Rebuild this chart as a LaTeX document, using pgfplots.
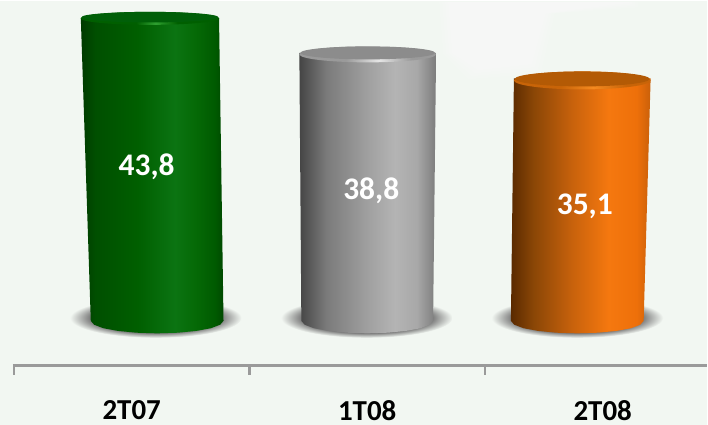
\documentclass[border=0pt]{standalone}
\usepackage{fontspec}
\setmainfont{Carlito}
\usepackage{pgfplots}
\pgfplotsset{compat=1.18}
\definecolor{bg}{HTML}{F2F7F2}
\definecolor{axisgray}{HTML}{9A9A9A}
\definecolor{sh}{HTML}{7A7A7A}
% green
\definecolor{ga}{HTML}{003A00}\definecolor{gb}{HTML}{004F00}\definecolor{gc}{HTML}{005F00}
\definecolor{gd}{HTML}{0B7412}\definecolor{ge}{HTML}{056A06}\definecolor{gf}{HTML}{005A00}\definecolor{gg}{HTML}{004800}
\definecolor{gtop}{HTML}{005F08}\definecolor{gbri}{HTML}{2EA030}
% gray
\definecolor{ka}{HTML}{454545}\definecolor{kb}{HTML}{7B7B7B}\definecolor{kc}{HTML}{A0A0A0}
\definecolor{kd}{HTML}{B4B4B4}\definecolor{ke}{HTML}{A8A8A8}\definecolor{kf}{HTML}{7C7C7C}
\definecolor{ktop}{HTML}{8C8C8C}\definecolor{kbri}{HTML}{E6E6E6}\definecolor{kedge}{HTML}{9A9A9A}
% orange
\definecolor{oa}{HTML}{5A2A00}\definecolor{ob}{HTML}{8A4606}\definecolor{oc}{HTML}{C8620C}
\definecolor{od}{HTML}{F5780F}\definecolor{oe}{HTML}{EE700A}\definecolor{of}{HTML}{C9600A}
\definecolor{otop}{HTML}{B35A05}\definecolor{obri}{HTML}{F58A20}\definecolor{oedge}{HTML}{C86408}
\pgfdeclarehorizontalshading{bodyg}{100bp}{color(0bp)=(ga);color(25bp)=(ga);color(30bp)=(gb);color(45bp)=(gc);color(58bp)=(gd);color(65bp)=(ge);color(72bp)=(gf);color(75bp)=(gg);color(100bp)=(gg)}
\pgfdeclarehorizontalshading{bodyk}{100bp}{color(0bp)=(ka);color(25bp)=(ka);color(35bp)=(kb);color(50bp)=(kc);color(60bp)=(kd);color(68bp)=(ke);color(75bp)=(kf);color(100bp)=(kf)}
\pgfdeclarehorizontalshading{bodyo}{100bp}{color(0bp)=(oa);color(25bp)=(oa);color(33bp)=(ob);color(47bp)=(oc);color(60bp)=(od);color(70bp)=(oe);color(75bp)=(of);color(100bp)=(of)}
\pgfdeclarehorizontalshading{bevg}{100bp}{color(0bp)=(gc);color(25bp)=(gc);color(45bp)=(gc);color(52bp)=(gbri);color(60bp)=(gc);color(100bp)=(gc)}
\pgfdeclarehorizontalshading{bevk}{100bp}{color(0bp)=(kedge);color(25bp)=(kedge);color(42bp)=(kedge);color(54bp)=(kbri);color(66bp)=(kedge);color(100bp)=(kedge)}
\pgfdeclarehorizontalshading{bevo}{100bp}{color(0bp)=(oedge);color(25bp)=(oedge);color(42bp)=(oedge);color(54bp)=(obri);color(66bp)=(oedge);color(100bp)=(oedge)}
\pgfdeclareradialshading{shadowsh}{\pgfpointorigin}{color(0bp)=(sh);color(19bp)=(sh);color(25bp)=(bg);color(50bp)=(bg)}
\pgfdeclareplotmark{capg}{%
  \pgfpathellipse{\pgfpointorigin}{\pgfpoint{69.5pt}{0pt}}{\pgfpoint{0pt}{6.5pt}}%
  \pgfshadepath{bevg}{0}\pgfusepath{discard}%
  \pgfpathellipse{\pgfpoint{0pt}{1.2pt}}{\pgfpoint{68.5pt}{0pt}}{\pgfpoint{0pt}{5.3pt}}%
  \pgfsetfillcolor{gtop}\pgfusepathqfill}
\pgfdeclareplotmark{capk}{%
  \pgfpathellipse{\pgfpoint{0pt}{-1.5pt}}{\pgfpoint{68.5pt}{0pt}}{\pgfpoint{0pt}{8pt}}%
  \pgfshadepath{bevk}{0}\pgfusepath{discard}%
  \pgfpathellipse{\pgfpoint{0pt}{0pt}}{\pgfpoint{67.5pt}{0pt}}{\pgfpoint{0pt}{6.5pt}}%
  \pgfsetfillcolor{ktop}\pgfusepathqfill}
\pgfdeclareplotmark{capo}{%
  \pgfpathellipse{\pgfpoint{0pt}{-2pt}}{\pgfpoint{68.5pt}{0pt}}{\pgfpoint{0pt}{9pt}}%
  \pgfshadepath{bevo}{0}\pgfusepath{discard}%
  \pgfpathellipse{\pgfpoint{0pt}{-0.5pt}}{\pgfpoint{67.5pt}{0pt}}{\pgfpoint{0pt}{7.5pt}}%
  \pgfsetfillcolor{otop}\pgfusepathqfill}
\pgfdeclareplotmark{shadow}{%
  \pgfpathellipse{\pgfpoint{0pt}{3pt}}{\pgfpoint{86pt}{0pt}}{\pgfpoint{0pt}{20pt}}%
  \pgfshadepath{shadowsh}{0}\pgfusepath{discard}}
\begin{document}
\begin{tikzpicture}[x=1pt,y=1pt]
\fill[bg] (0,0) rectangle (708,424);
% pale patch of the backdrop, soft edge built from layers
\foreach \d in {0,3,6,9,12,15}{
  \fill[white,opacity=.1] (440+\d,424) -- (640-\d,424) -- (640-\d,418+\d/2) -- (556-\d,412) -- (542-\d,352+\d) -- (470+\d,346+\d) -- (444+\d,372) -- cycle;
}
% shadows lie under everything
\begin{axis}[
  at={(13pt,59pt)},anchor=south west,scale only axis,
  width=695pt,height=365pt,
  xmin=-0.5042,xmax=2.4407,ymin=-6.50,ymax=46.24,
  hide axis,clip=false,
]
\addplot[only marks,mark=shadow] coordinates {(0.102,0) (0.998,0) (1.892,0)};
\end{axis}
\begin{axis}[
  at={(13pt,59pt)},anchor=south west,scale only axis,
  width=695pt,height=365pt,
  xmin=-0.5042,xmax=2.4407,ymin=-6.50,ymax=46.24,
  axis y line=none,axis x line=bottom,
  x axis line style={-,line width=3pt,color=axisgray},
  xtick={0,1,2},xticklabels={2T07,1T08,2T08},
  minor xtick={-0.5,0.5,1.5},
  major tick length=0pt,minor tick length=9pt,
  tick align=outside,
  minor tick style={line width=2.2pt,color=axisgray},
  major tick style={draw=none},
  xticklabel style={anchor=center,inner sep=0pt,yshift=-44.5pt,font=\fontsize{29}{30}\selectfont\bfseries,text=black},
  clip=false,
]
% cylinder bodies
\addplot[shade,shading=bodyg,draw=none,mark=none] coordinates {
 (-0.2161,43.8) (-0.1738,0) (-0.1597,-0.56) (-0.1203,-1.07) (-0.0583,-1.46) (0.0206,-1.72) (0.108,-1.81)
 (0.1954,-1.72) (0.2743,-1.46) (0.3363,-1.07) (0.3757,-0.56) (0.3898,0) (0.3708,43.8)} --cycle;
\addplot[shade,shading=bodyk,draw=none,mark=none] coordinates {
 (0.7119,38.8) (0.7203,0) (0.7343,-0.56) (0.7734,-1.07) (0.835,-1.46) (0.9133,-1.72) (1.0,-1.81)
 (1.0867,-1.72) (1.165,-1.46) (1.2266,-1.07) (1.2657,-0.56) (1.2797,0) (1.2924,38.8)} --cycle;
\addplot[shade,shading=bodyo,draw=none,mark=none] coordinates {
 (1.6229,35.1) (1.6102,0) (1.6243,-0.56) (1.6637,-1.07) (1.7257,-1.46) (1.8046,-1.72) (1.892,-1.81)
 (1.9794,-1.72) (2.0583,-1.46) (2.1203,-1.07) (2.1597,-0.56) (2.1738,0) (2.2034,35.1)} --cycle;
% cylinder tops, at the values
\addplot[only marks,mark=capg] coordinates {(0.0773,43.8)};
\addplot[only marks,mark=capk] coordinates {(1.0021,38.8)};
\addplot[only marks,mark=capo] coordinates {(1.9131,35.1)};
% value labels
\node[text=white,font=\fontsize{31.5}{33}\selectfont\bfseries] at (axis cs:0.0636,22.3) {43,8};
\node[text=white,font=\fontsize{31.5}{33}\selectfont\bfseries] at (axis cs:1.017,18.8) {38,8};
\node[text=white,font=\fontsize{31.5}{33}\selectfont\bfseries] at (axis cs:1.924,16.63) {35,1};
\end{axis}
\path[use as bounding box] (0,0) rectangle (708,424);
\end{tikzpicture}
\end{document}
